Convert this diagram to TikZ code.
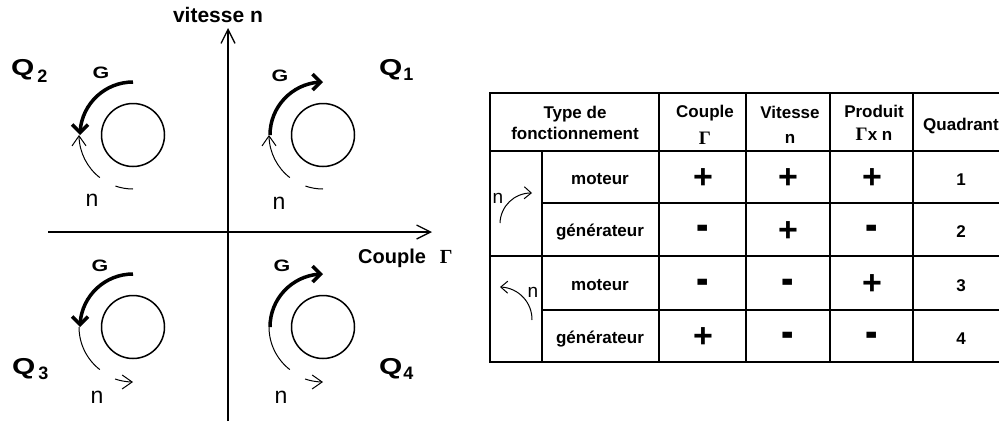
\documentclass[tikz,border=0pt]{standalone}
\usepackage{fontspec}
\setmainfont{Liberation Sans}
\newfontfamily\grec{Liberation Serif}
\usetikzlibrary{arrows.meta,bending}

\begin{document}
\begin{tikzpicture}[x=1pt,y=-1pt,
	axe/.style={line width=1.3pt,-{Straight Barb[length=14pt,width=14pt]}},
	rotor/.style={circle,draw,line width=1.5pt,minimum size=63pt,inner sep=0pt},
	gfleche/.style={line width=3.5pt,-{Straight Barb[length=8pt,width=16pt]}},
	nfleche/.style={line width=1pt},
	ntip/.style={-{Straight Barb[length=10pt,width=14pt]}},
	qlbl/.style={font=\bfseries\fontsize{23pt}{23pt}\selectfont,anchor=base west,inner sep=0pt},
	glbl/.style={font=\bfseries\fontsize{16.5pt}{16.5pt}\selectfont,inner sep=0pt},
	nlbl/.style={font=\fontsize{23pt}{23pt}\selectfont,inner sep=0pt},
	tete/.style={font=\bfseries\fontsize{17pt}{21pt}\selectfont,align=center,anchor=north,inner sep=0pt},
	cell/.style={font=\bfseries\fontsize{17pt}{17pt}\selectfont,anchor=base,inner sep=0pt},
	signep/.style={font=\bfseries\fontsize{34pt}{34pt}\selectfont,inner sep=0pt},
	signem/.style={signep,transform shape,xscale=1.1,yscale=1.5},
	grille/.style={line width=1.8pt}]

\useasboundingbox (0,0) rectangle (999,421);

% axes
\coordinate (ybas) at (228,421);
\coordinate (yhaut) at (228,28);
\coordinate (xgauche) at (48,232);
\coordinate (xdroite) at (432,232);
\draw[axe] (ybas) -- (yhaut);
\draw[axe] (xgauche) -- (xdroite);
\node[font=\bfseries\fontsize{21pt}{21pt}\selectfont,anchor=base,inner sep=0pt] (ylbl) at (218,22) {vitesse n};
\node[font=\bfseries\fontsize{20pt}{20pt}\selectfont,anchor=base west,inner sep=0pt] (xlbl) at (358,263) {Couple\hskip14pt{\grec\fontsize{20pt}{20pt}\selectfont Γ}};

% quadrants
\node[qlbl] (q1) at (379,75) {\scalebox{1.3}[1]{Q}\kern1pt\lower5pt\hbox{\fontsize{18pt}{18pt}\selectfont 1}};
\node[qlbl] (q2) at (11,75) {\scalebox{1.3}[1]{Q}\kern3pt\lower7pt\hbox{\fontsize{18pt}{18pt}\selectfont 2}};
\node[qlbl] (q3) at (12,374) {\scalebox{1.3}[1]{Q}\kern3pt\lower5pt\hbox{\fontsize{18pt}{18pt}\selectfont 3}};
\node[qlbl] (q4) at (379,374) {\scalebox{1.3}[1]{Q}\kern1pt\lower5pt\hbox{\fontsize{18pt}{18pt}\selectfont 4}};

\node[rotor] (m1) at (323,135) {};
\node[rotor] (m2) at (133,135) {};
\node[rotor] (m3) at (133,327) {};
\node[rotor] (m4) at (323,327) {};

\node[glbl] (g1) at (280,76) {\scalebox{1.3}[1]{G}};
\node[glbl] (g2) at (101,73) {\scalebox{1.3}[1]{G}};
\node[glbl] (g3) at (100,266) {\scalebox{1.3}[1]{G}};
\node[glbl] (g4) at (282,266) {\scalebox{1.3}[1]{G}};

\node[nlbl] (n1) at (279,203) {n};
\node[nlbl] (n2) at (92,200) {n};
\node[nlbl] (n3) at (97,397) {n};
\node[nlbl] (n4) at (281,397) {n};

\draw[gfleche] ([shift={(180:53pt)}]m1.center) arc[start angle=180,end angle=90,radius=53pt];
\draw[nfleche,ntip] ([shift={(232:54pt)}]m1.center) arc[start angle=232,end angle=180,radius=54pt];
\draw[nfleche] ([shift={(251:54pt)}]m1.center) arc[start angle=251,end angle=270,radius=54pt];

\draw[gfleche] ([shift={(90:53pt)}]m2.center) arc[start angle=90,end angle=180,radius=53pt];
\draw[nfleche,ntip] ([shift={(232:54pt)}]m2.center) arc[start angle=232,end angle=180,radius=54pt];
\draw[nfleche] ([shift={(251:54pt)}]m2.center) arc[start angle=251,end angle=270,radius=54pt];

\draw[gfleche] ([shift={(90:53pt)}]m3.center) arc[start angle=90,end angle=180,radius=53pt];
\draw[nfleche] ([shift={(180:54pt)}]m3.center) arc[start angle=180,end angle=232,radius=54pt];
\draw[nfleche,ntip] ([shift={(251:55pt)}]m3.center) arc[start angle=251,end angle=270,radius=55pt];

\draw[gfleche] ([shift={(180:53pt)}]m4.center) arc[start angle=180,end angle=90,radius=53pt];
\draw[nfleche] ([shift={(180:54pt)}]m4.center) arc[start angle=180,end angle=232,radius=54pt];
\draw[nfleche,ntip] ([shift={(251:55pt)}]m4.center) arc[start angle=251,end angle=270,radius=55pt];

% tableau
\draw[grille] (999,93) -- (490,93) -- (490,362) -- (999,362);
\foreach \y in {151,256} \draw[grille] (490,\y) -- (999,\y);
\foreach \y in {203,310} \draw[grille] (542,\y) -- (999,\y);
\draw[grille] (542,151) -- (542,362);
\foreach \x in {659,746,830,913} \draw[grille] (\x,93) -- (\x,362);

\node[tete] (h1) at (575,106) {Type de\\fonctionnement};
\node[tete] (h2) at (705,105) {Couple\\[6pt]{\grec\fontsize{19pt}{19pt}\selectfont Γ}};
\node[tete] (h3) at (790,106) {Vitesse\\[4pt]n};
\node[tete] (h4) at (874,105) {Produit\\[2pt]{\grec\fontsize{19pt}{19pt}\selectfont Γ}x n};
\node[cell] (h5) at (961,130) {Quadrant};

\node[cell] (r1) at (600,184) {moteur};
\node[cell] (r2) at (600,236.5) {générateur};
\node[cell] (r3) at (600,290) {moteur};
\node[cell] (r4) at (600,343) {générateur};

\node[signep] (a1) at (703,179) {+};
\node[signep] (b1) at (788,179) {+};
\node[signep] (c1) at (872,179) {+};
\node[signem] (a2) at (703,233.5) {-};
\node[signep] (b2) at (788,231.5) {+};
\node[signem] (c2) at (872,233.5) {-};
\node[signem] (a3) at (703,287) {-};
\node[signem] (b3) at (788,287) {-};
\node[signep] (c3) at (872,285) {+};
\node[signep] (a4) at (703,338) {+};
\node[signem] (b4) at (788,340) {-};
\node[signem] (c4) at (872,340) {-};

\node[cell] (k1) at (961,185) {1};
\node[cell] (k2) at (961,237.5) {2};
\node[cell] (k3) at (961,291) {3};
\node[cell] (k4) at (961,344) {4};

\coordinate (s1) at (500,223);
\coordinate (e1) at (532,193);
\draw[line width=1pt,-{Straight Barb[length=7pt,width=12pt]}] (s1) to[bend left=45] (e1);
\node[font=\fontsize{19pt}{19pt}\selectfont,inner sep=0pt] (n5) at (498,198) {n};
\coordinate (s2) at (532,320);
\coordinate (e2) at (500,287);
\draw[line width=1pt,-{Straight Barb[length=7pt,width=12pt]}] (s2) to[bend right=45] (e2);
\node[font=\fontsize{19pt}{19pt}\selectfont,inner sep=0pt] (n6) at (533,292) {n};
\end{tikzpicture}
\end{document}
